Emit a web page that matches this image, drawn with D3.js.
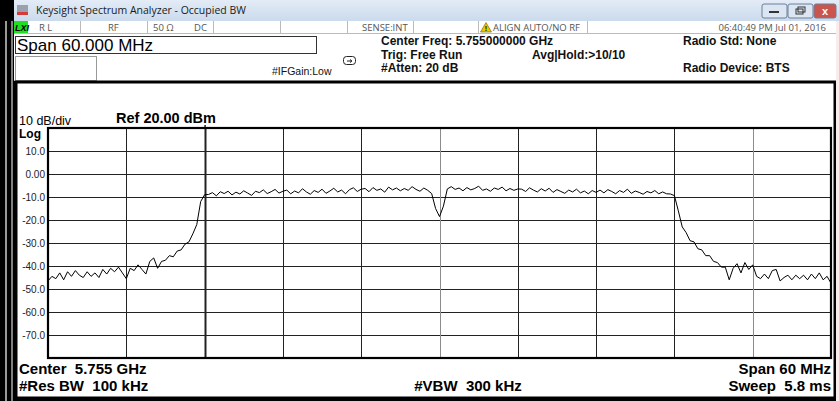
<!DOCTYPE html>
<html>
<head>
<meta charset="utf-8">
<script src="https://cdn.jsdelivr.net/npm/d3@7"></script>
<style>
  body { margin: 0; background: #000; }
  svg { display: block; }
  text { white-space: pre; }
</style>
</head>
<body>
<div class="canvas"></div>
<script>
// Trace values (dBm), every 0.3 MHz from -30 MHz to +30 MHz
const leftSkirt = [
    -46.5, -44.5, -45.5, -43, -46, -42.5, -44.5, -42, -44, -45,
    -42.5, -44.5, -43, -45, -41.5, -43.5, -41, -42.5, -40.5, -43,
    -45.5, -41, -42, -39.5, -41.5, -43.5, -38, -36.5, -41, -38,
    -37.5, -35.5, -36, -33.5, -33, -30.5, -29.5, -26, -22, -12, -9
];
const channelBand = [
    -8.9, -8.1, -9.5, -7.7, -8.5, -7.5, -9.1, -7.9, -8.7, -7.3,
    -8.3, -9.3, -7.5, -8.1, -6.9, -8.5, -7.7, -6.7, -8.3, -7.5,
    -7.0, -8.6, -7.4, -8.2, -6.4, -7.8, -8.8, -7.2, -8.0, -6.6,
    -8.4, -7.4, -6.2, -7.8, -7.0, -8.6, -6.8, -6.0, -7.6, -6.6,
    -6.3, -7.7, -5.9, -7.1, -6.5, -7.9, -5.7, -6.9, -6.1, -7.3,
    -6.3, -7.1, -5.5, -6.7, -7.5, -6.1, -7.1,
    -8.5, -15, -18.5, -14, -6.5,
    -5.5, -6.7, -6.1, -7.3, -5.9, -6.9, -6.3, -5.3, -7.1, -6.5,
    -7.5, -6.1, -6.7, -5.7, -7.3, -6.3, -7.1, -6.5,
    -6.6, -7.6, -6.0, -7.0, -7.8, -6.4, -7.4, -6.2, -8.0, -6.8,
    -7.6, -8.4, -7.0, -7.8, -6.6, -8.2, -7.4, -8.6, -7.2, -8.0,
    -7.0, -8.2, -6.8, -7.6, -8.6, -7.2, -8.0, -6.6, -8.4, -7.4,
    -8.0, -8.8, -7.6, -8.2, -7.2, -8.6, -7.8, -8.6, -8.7, -9.4
];
const rightSkirt = [
    -16, -23, -25.5, -29, -29.5, -32.5, -33, -35.5, -35.5, -38,
    -38.5, -40.5, -40.5, -46, -41, -39, -43, -38.5, -41.5, -39.5,
    -44.5, -45.5, -43.5, -45.5, -42, -41.5, -46.5, -45, -44, -46,
    -44, -45.5, -44, -46, -43.5, -45.5, -43, -46, -44.5, -47.5
];
const startFreq = -30, stepFreq = 0.3; // MHz offset from centre

const yTickValues = [10, 0, -10, -20, -30, -40, -50, -60, -70];
const yTickLabels = ['10.0', '0.00', '-10.0', '-20.0', '-30.0', '-40.0', '-50.0', '-60.0', '-70.0'];
const xGridFreqs = [-30, -24, -18, -12, -6, 0, 6, 12, 18, 24, 30];

const statusCells = [
    { x: 39, t: 'R L' }, { x: 108, t: 'RF' }, { x: 153, t: '50 Ω' }, { x: 194, t: 'DC' },
    { x: 362, t: 'SENSE:INT' }, { x: 493, t: 'ALIGN AUTO/NO RF' }
];
const statusDividers = [80, 147, 213, 280, 347, 413, 478, 587];
const headerBold = [
    { x: 381, y: 45, t: 'Center Freq: 5.755000000 GHz' },
    { x: 381, y: 59, t: 'Trig: Free Run' },
    { x: 381, y: 72, t: '#Atten: 20 dB' },
    { x: 532, y: 59, t: 'Avg|Hold:>10/10' },
    { x: 683, y: 45, t: 'Radio Std: None' },
    { x: 683, y: 72, t: 'Radio Device: BTS' }
];

const W = 839, H = 401;
const plotL = 48, plotR = 831, plotT = 128, plotB = 358;

const svg = d3.select('.canvas')
    .append('svg')
    .attr('width', W)
    .attr('height', H)
    .style('font-family', '"Liberation Sans", Arial, sans-serif');

// window frame
svg.append('rect').attr('width', W).attr('height', H).attr('fill', '#000');
svg.append('line').attr('x1', 6).attr('x2', 6).attr('y1', 21).attr('y2', H).attr('stroke', '#fff').attr('stroke-width', 1.2);
svg.append('line').attr('x1', 12).attr('x2', 12).attr('y1', 21).attr('y2', H).attr('stroke', '#fff').attr('stroke-width', 1);

// title bar
const grad = svg.append('defs').append('linearGradient')
    .attr('id', 'tb').attr('x1', 0).attr('y1', 0).attr('x2', 0).attr('y2', 1);
grad.append('stop').attr('offset', '0%').attr('stop-color', '#e3ecf7');
grad.append('stop').attr('offset', '100%').attr('stop-color', '#cbdaec');
svg.append('rect').attr('x', 14).attr('y', 0).attr('width', W - 14).attr('height', 21).attr('fill', 'url(#tb)');
svg.append('rect').attr('x', 17).attr('y', 5).attr('width', 11).attr('height', 10).attr('fill', '#9aa3ad');
svg.append('rect').attr('x', 17).attr('y', 12).attr('width', 11).attr('height', 3).attr('fill', '#d63a3a');
svg.append('text').attr('x', 36).attr('y', 14)
    .style('font-family', '"Open Sans", "Noto Sans", sans-serif').style('font-size', '10.5px').attr('fill', '#1a1a1a')
    .text('Keysight Spectrum Analyzer - Occupied BW');
[[762, '#dce6f2'], [788, '#dce6f2'], [814, '#c9554d']].forEach(([bx, c], i) => {
    svg.append('rect').attr('x', bx).attr('y', 4).attr('width', i === 2 ? 22 : 25).attr('height', 14)
        .attr('rx', 2).attr('fill', c).attr('stroke', '#6d7f99');
});
svg.append('rect').attr('x', 769).attr('y', 11).attr('width', 10).attr('height', 2).attr('fill', '#333');
svg.append('rect').attr('x', 796).attr('y', 9).attr('width', 7).attr('height', 5).attr('fill', 'none').attr('stroke', '#333');
svg.append('rect').attr('x', 798).attr('y', 7).attr('width', 7).attr('height', 5).attr('fill', 'none').attr('stroke', '#333');
svg.append('text').attr('x', 825).attr('y', 15).attr('text-anchor', 'middle')
    .style('font-size', '11px').style('font-weight', 'bold').attr('fill', '#fff').text('x');

// status row + header area
svg.append('rect').attr('x', 14).attr('y', 21).attr('width', W - 14).attr('height', 60).attr('fill', '#fff');
svg.append('line').attr('x1', 14).attr('x2', W).attr('y1', 33.5).attr('y2', 33.5).attr('stroke', '#bbb');
svg.append('rect').attr('x', 14).attr('y', 21).attr('width', 14).attr('height', 12).attr('fill', '#1ee01e');
svg.append('text').attr('x', 15).attr('y', 31).style('font-size', '9px').style('font-weight', 'bold')
    .style('font-style', 'italic').attr('fill', '#000').text('LXI');
svg.selectAll('.sdiv').data(statusDividers).enter().append('line')
    .attr('x1', d => d + 0.5).attr('x2', d => d + 0.5).attr('y1', 21).attr('y2', 33).attr('stroke', '#bbb');
svg.selectAll('.scell').data(statusCells).enter().append('text')
    .attr('x', d => d.x).attr('y', 31)
    .style('font-family', '"Open Sans", "Noto Sans", sans-serif').style('font-size', '9.5px').attr('fill', '#555')
    .text(d => d.t);
svg.append('path').attr('d', 'M486,22.5 L491.5,32 L480.5,32 Z').attr('fill', '#f2c500').attr('stroke', '#6b5a00').attr('stroke-width', 0.6);
svg.append('text').attr('x', 486).attr('y', 31).attr('text-anchor', 'middle').style('font-size', '7px')
    .style('font-weight', 'bold').attr('fill', '#000').text('!');
svg.append('text').attr('x', 826).attr('y', 31).attr('text-anchor', 'end')
    .style('font-family', '"Open Sans", "Noto Sans", sans-serif').style('font-size', '9.5px').attr('fill', '#555')
    .text('06:40:49 PM Jul 01, 2016');

svg.append('rect').attr('x', 15.5).attr('y', 36.5).attr('width', 301).attr('height', 17)
    .attr('fill', '#fff').attr('stroke', '#333');
svg.append('text').attr('x', 17).attr('y', 51).style('font-size', '17px').attr('fill', '#000').text('Span 60.000 MHz');
svg.append('rect').attr('x', 15.5).attr('y', 56.5).attr('width', 81).attr('height', 24)
    .attr('fill', '#fff').attr('stroke', '#999');
svg.append('text').attr('x', 272).attr('y', 75).style('font-size', '10.5px').attr('fill', '#111').text('#IFGain:Low');
svg.append('rect').attr('x', 343.5).attr('y', 56.5).attr('width', 12).attr('height', 8).attr('rx', 3)
    .attr('fill', '#fff').attr('stroke', '#222');
svg.append('path').attr('d', 'M347,61 L351,61 M350,59.5 L352,61 L350,62.5').attr('stroke', '#222').attr('fill', 'none');
svg.selectAll('.hb').data(headerBold).enter().append('text')
    .attr('x', d => d.x).attr('y', d => d.y)
    .style('font-size', '12px').style('font-weight', 'bold').attr('fill', '#111')
    .text(d => d.t);

// measurement panel
svg.append('rect').attr('x', 16).attr('y', 82).attr('width', 819).attr('height', 316)
    .attr('fill', '#fff').attr('stroke', '#000').attr('stroke-width', 3);
svg.append('rect').attr('x', 836).attr('y', 21).attr('width', 3).attr('height', H - 21).attr('fill', '#f7eded');

const xScale = d3.scaleLinear().domain([-30, 30]).range([plotL, plotR]);
const yScale = d3.scaleLinear().domain([-80, 20]).range([plotB, plotT]);

// grid
svg.append('g').selectAll('line').data(yTickValues).enter().append('line')
    .attr('x1', plotL).attr('x2', plotR)
    .attr('y1', d => Math.round(yScale(d)) + 0.5).attr('y2', d => Math.round(yScale(d)) + 0.5)
    .attr('stroke', '#222').attr('stroke-width', 1);
svg.append('g').selectAll('line').data(xGridFreqs.slice(1, -1)).enter().append('line')
    .attr('x1', d => Math.round(xScale(d)) + 0.5).attr('x2', d => Math.round(xScale(d)) + 0.5)
    .attr('y1', plotT).attr('y2', plotB)
    .attr('stroke', d => (d === 0 || d === 24) ? '#8c8c8c' : '#222')
    .attr('stroke-width', d => d === -18 ? 2 : 1);
svg.append('line').attr('x1', xScale(-18) + 0.5).attr('x2', xScale(-18) + 0.5)
    .attr('y1', plotT - 3).attr('y2', plotT).attr('stroke', '#222').attr('stroke-width', 1.5);
svg.append('rect').attr('x', plotL).attr('y', plotT).attr('width', plotR - plotL).attr('height', plotB - plotT)
    .attr('fill', 'none').attr('stroke', '#000').attr('stroke-width', 2.2);

// y labels
const yAxis = d3.axisLeft(yScale).tickValues(yTickValues).tickSize(0).tickPadding(2)
    .tickFormat((d, i) => yTickLabels[i]);
svg.append('g')
    .attr('transform', `translate(${plotL - 1}, 0)`)
    .call(yAxis)
    .call(g => g.select('.domain').remove())
    .call(g => g.selectAll('text').attr('fill', '#222').style('font-size', '10px')
        .style('font-family', '"Liberation Sans", Arial, sans-serif'));

svg.append('text').attr('x', 19).attr('y', 125).style('font-size', '12.5px').attr('fill', '#000').text('10 dB/div');
svg.append('text').attr('x', 116).attr('y', 123).style('font-size', '14.5px').style('font-weight', 'bold')
    .attr('fill', '#000').text('Ref 20.00 dBm');
svg.append('text').attr('x', 19).attr('y', 138).style('font-size', '12px').style('font-weight', 'bold')
    .attr('fill', '#000').text('Log');

// trace
const levels = leftSkirt.concat(channelBand, rightSkirt);
const trace = levels.map((v, i) => ({ f: startFreq + i * stepFreq, v }));
const line = d3.line().x(d => xScale(d.f)).y(d => yScale(d.v));
svg.append('path')
    .datum(trace)
    .attr('d', line)
    .attr('fill', 'none')
    .attr('stroke', '#000')
    .attr('stroke-width', 1);

// footer annotations
const foot = [
    { x: 19, y: 374, a: 'start', t: 'Center  5.755 GHz' },
    { x: 19, y: 391, a: 'start', t: '#Res BW  100 kHz' },
    { x: 468, y: 391, a: 'middle', t: '#VBW  300 kHz' },
    { x: 831, y: 374, a: 'end', t: 'Span 60 MHz' },
    { x: 831, y: 391, a: 'end', t: 'Sweep  5.8 ms' }
];
svg.selectAll('.ft').data(foot).enter().append('text')
    .attr('x', d => d.x).attr('y', d => d.y).attr('text-anchor', d => d.a)
    .style('font-size', '15px').style('font-weight', 'bold').attr('fill', '#000')
    .text(d => d.t);
</script>
</body>
</html>
